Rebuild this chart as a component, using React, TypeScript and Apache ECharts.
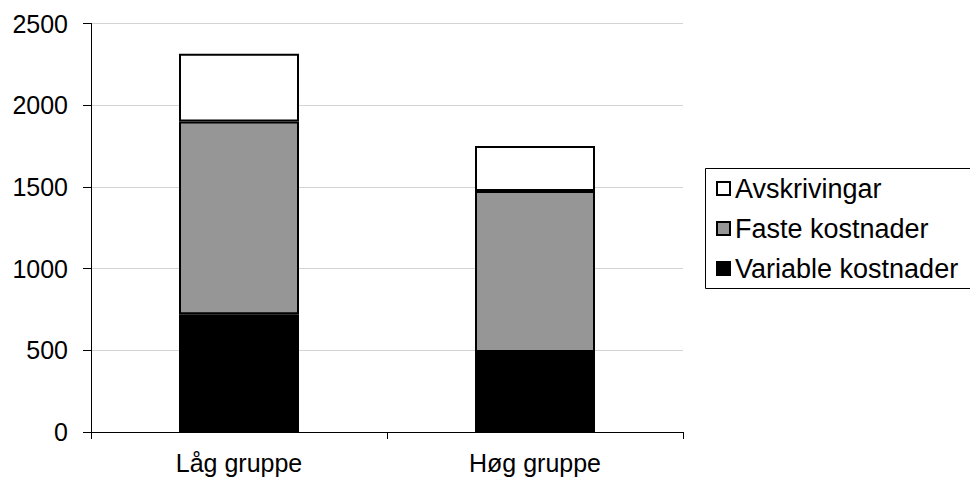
import React, { useEffect, useRef } from "react";
import * as echarts from "echarts";

const categories = ["Låg gruppe", "Høg gruppe"];
const seriesNames = ["Variable kostnader", "Faste kostnader", "Avskrivingar"];
const variableKostnader = [720, 490];
const fasteKostnader = [1180, 985];
const avskrivingar = [415, 275];
const seriesColors = ["#000000", "#969696", "#ffffff"];
const legendOrder = ["Avskrivingar", "Faste kostnader", "Variable kostnader"];

const FONT = "'Liberation Sans', Arial, sans-serif";

export default function App() {
  const ref = useRef<HTMLDivElement>(null);
  useEffect(() => {
    document.body.style.margin = "0";
    if (!ref.current) return;
    const chart = echarts.init(ref.current, null, { renderer: "svg" });
    const values = [variableKostnader, fasteKostnader, avskrivingar];
    chart.setOption({
      animation: false,
      backgroundColor: "#ffffff",
      textStyle: { fontFamily: FONT },
      grid: { left: 91, right: 287, top: 23.5, bottom: 46, containLabel: false },
      graphic: [
        {
          type: "rect",
          z: 0,
          shape: { x: 705.5, y: 168.5, width: 300, height: 120 },
          style: { fill: "#ffffff", stroke: "#000000", lineWidth: 1 },
        },
      ],
      legend: {
        orient: "vertical",
        left: 716,
        top: 175,
        padding: 0,
        itemGap: 13,
        itemWidth: 13,
        itemHeight: 13,
        icon: "rect",
        data: legendOrder,
        textStyle: { fontFamily: FONT, fontSize: 27, color: "#000" },
        z: 10,
      },
      xAxis: {
        type: "category",
        data: categories,
        axisLine: { lineStyle: { color: "#000", width: 1 } },
        axisTick: { show: true, length: 7, lineStyle: { color: "#000" } },
        axisLabel: { color: "#000", fontSize: 25, fontFamily: FONT, margin: 18 },
      },
      yAxis: {
        type: "value",
        min: 0,
        max: 2500,
        interval: 500,
        axisLine: { show: true, lineStyle: { color: "#000", width: 1 } },
        axisTick: { show: true, length: 8, lineStyle: { color: "#000" } },
        axisLabel: {
          color: "#000",
          fontSize: 25,
          fontFamily: FONT,
          margin: 23,
          formatter: (v: number) => String(v),
        },
        splitLine: { show: true, lineStyle: { color: "#d4d4d4", width: 1 } },
      },
      series: seriesNames.map((name, i) => ({
        name,
        type: "bar",
        stack: "total",
        barWidth: 120,
        data: values[i],
        itemStyle: { color: seriesColors[i], borderColor: "#000", borderWidth: 2 },
      })),
    });
    return () => chart.dispose();
  }, []);
  return <div ref={ref} style={{ width: 970, height: 478 }} />;
}
